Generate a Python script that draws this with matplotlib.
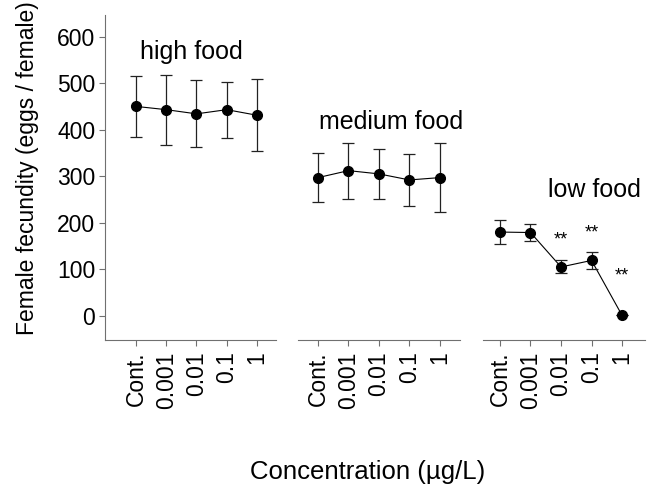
"""Female fecundity across three food levels and five concentrations."""

import matplotlib

matplotlib.use("Agg")
import matplotlib.pyplot as plt

plt.rcParams["font.family"] = ["Liberation Sans", "DejaVu Sans"]

CONC = ["Cont.", "0.001", "0.01", "0.1", "1"]

HIGH_MEAN = [450, 443, 434, 443, 431]
HIGH_ERR = [66, 75, 72, 60, 77]
MEDIUM_MEAN = [297, 312, 305, 292, 297]
MEDIUM_ERR = [52, 60, 53, 55, 74]
LOW_MEAN = [180, 179, 105, 119, 1]
LOW_ERR = [25, 18, 14, 18, 0]
LOW_SIG = ["", "", "**", "**", "**"]
LOW_SIG_Y = [0, 0, 163, 178, 86]

GROUPS = ["high food", "medium food", "low food"]
GROUP_LABEL_XY = [(1.84, 566), (2.4, 416), (3.08, 270)]

SPINE = "#707070"


def main():
    fig = plt.figure(figsize=(6.51, 4.87), dpi=100)
    bottom, height = 0.3018, 0.667
    boxes = [(0.1613, 0.2627), (0.4578, 0.2488), (0.7419, 0.2488)]
    xlims = [(-1.025, 4.63), (-0.656, 4.66), (-0.557, 4.75)]
    data = [(HIGH_MEAN, HIGH_ERR), (MEDIUM_MEAN, MEDIUM_ERR), (LOW_MEAN, LOW_ERR)]
    x = list(range(len(CONC)))

    axes = []
    for i, ((left, width), xl, (mean, err)) in enumerate(zip(boxes, xlims, data)):
        ax = fig.add_axes([left, bottom, width, height])
        ax.errorbar(x, mean, yerr=err, fmt="o", color="black", ms=7,
                    ecolor="#222222", elinewidth=0.9, capsize=4.5, capthick=0.9,
                    zorder=3)
        ax.plot(x, mean, color="black", lw=0.8, zorder=2)
        ax.set_xlim(*xl)
        ax.set_ylim(-52, 646)
        ax.set_xticks(x)
        ax.set_xticklabels(CONC, rotation=90, fontsize=16.5)
        for side in ("top", "right"):
            ax.spines[side].set_visible(False)
        ax.spines["bottom"].set_color(SPINE)
        ax.spines["left"].set_color(SPINE)
        ax.tick_params(axis="both", colors=SPINE, labelcolor="black",
                       length=4, width=0.8, pad=3)
        ax.tick_params(axis="x", pad=4)
        if i == 0:
            ax.set_yticks([0, 100, 200, 300, 400, 500, 600])
            ax.tick_params(axis="y", labelsize=16.5)
        else:
            ax.spines["left"].set_visible(False)
            ax.set_yticks([])
        gx, gy = GROUP_LABEL_XY[i]
        ax.text(gx, gy, GROUPS[i], ha="center", va="center", fontsize=18)
        axes.append(ax)

    for xi, (sig, sy) in enumerate(zip(LOW_SIG, LOW_SIG_Y)):
        if sig:
            axes[2].text(xi, sy, sig, ha="center", va="center", fontsize=13)

    fig.text(28 / 651, (487 - 168) / 487, "Female fecundity (eggs / female)",
             rotation=90, ha="center", va="center", fontsize=16.5)
    fig.text(368 / 651, (487 - 472) / 487, "Concentration (µg/L)",
             ha="center", va="center", fontsize=18.5)

    fig.savefig("out.png", dpi=100)


if __name__ == "__main__":
    main()
